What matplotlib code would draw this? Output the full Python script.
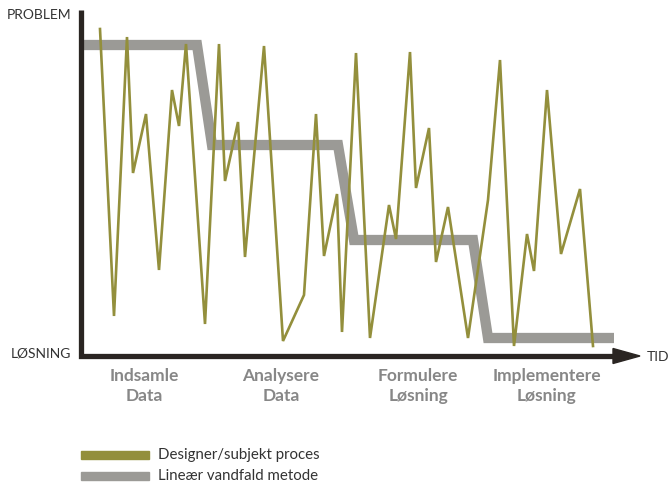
import matplotlib
matplotlib.use("Agg")
import matplotlib.pyplot as plt
from matplotlib.patches import Rectangle, Polygon

plt.rcParams['font.family'] = ['Lato', 'DejaVu Sans']

# Designer/subject process (time, problem level)
design_t = [19, 33, 46, 52, 65, 78, 91, 98, 105, 124, 138, 144, 157, 164, 183, 202,
            223, 235, 243, 256, 261, 275, 289, 308, 315, 329, 335, 348, 355, 367,
            387, 407, 419, 433, 446, 453, 466, 480, 499, 512]
design_v = [327, 40, 319, 183, 242, 86, 266, 230, 312, 32, 312, 175, 234, 99, 310, 15,
            61, 242, 100, 162, 24, 303, 18, 151, 117, 304, 168, 228, 94, 149,
            18, 156, 296, 10, 122, 85, 266, 102, 167, 10]

# Linear waterfall method
water_t = [2, 116, 131, 257, 273, 392, 407, 533]
water_v = [311, 311, 211, 211, 116, 116, 18, 18]

phase_labels = ["Indsamle\nData", "Analysere\nData", "Formulere\nLøsning", "Implementere\nLøsning"]
phase_pos = [63, 200, 337, 466]

legend_labels = ["Designer/subjekt proces", "Lineær vandfald metode"]

GREEN = "#938f3c"
GRAY = "#9b9a96"
AXIS = "#2a2522"

W, H = 668, 488
fig = plt.figure(figsize=(W / 100, H / 100), dpi=100)
ax = fig.add_axes([81 / W, 132 / H, 559 / W, 346 / H])
ax.set_xlim(0, 559)
ax.set_ylim(0, 346)
ax.axis("off")

ax.plot(water_t, water_v, color=GRAY, lw=7.4, solid_capstyle="butt",
        solid_joinstyle="miter", clip_on=False, zorder=2)
ax.plot(design_t, design_v, color=GREEN, lw=1.9, solid_joinstyle="miter",
        clip_on=False, zorder=3)

# axes with arrow
ax.plot([0, 0, 535], [346, 0, 0], color=AXIS, lw=3.8, solid_capstyle="butt",
        solid_joinstyle="miter", clip_on=False, zorder=4)
ax.add_patch(Polygon([[532, 7.5], [559, 0], [532, -7.5]], closed=True,
                     color=AXIS, clip_on=False, zorder=4))

def fx(px):
    return px / W

def fy(py):
    return 1 - py / H

fig.text(fx(71), fy(15), "PROBLEM", ha="right", va="center", fontsize=10, color="#333333")
fig.text(fx(71), fy(354), "LØSNING", ha="right", va="center", fontsize=10, color="#333333")
fig.text(fx(647), fy(357), "TID", ha="left", va="center", fontsize=10, color="#333333")

for lab, p in zip(phase_labels, phase_pos):
    ax.text(p, -30, lab, ha="center", va="center", fontsize=12.5, fontweight="bold",
            color="#878787", linespacing=1.3)

colors = [GREEN, GRAY]
for i, (lab, c) in enumerate(zip(legend_labels, colors)):
    yc = 455 + i * 21
    fig.patches.append(Rectangle((fx(81), fy(yc + 4)), 68 / W, 8 / H,
                                 transform=fig.transFigure, color=c))
    fig.text(fx(158), fy(yc), lab, ha="left", va="center", fontsize=10.8, color="#333333")

fig.savefig("out.png", dpi=100)
